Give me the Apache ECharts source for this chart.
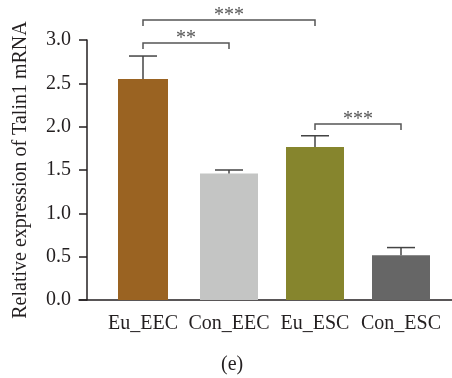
<!DOCTYPE html>
<html>
<head>
<meta charset="utf-8">
<script src="https://cdn.jsdelivr.net/npm/echarts@6/dist/echarts.min.js"></script>
<style>
  html, body { margin: 0; padding: 0; background: #fff; }
  #chart { width: 452px; height: 378px; }
</style>
</head>
<body>
<div id="chart"></div>
<script>
// data
var categories = ['Eu_EEC', 'Con_EEC', 'Eu_ESC', 'Con_ESC'];
var means = [2.55, 1.46, 1.765, 0.515];
var errors = [0.265, 0.04, 0.13, 0.09];
var yTicks = { min: 0, max: 3, interval: 0.5 };
// significance brackets: [from, to, height, label]
var brackets = [
    [0, 2, 3.23, '***'],
    [0, 1, 2.965, '**'],
    [2, 3, 2.03, '***']
];

var barColors = ['#9a6322', '#c4c5c4', '#86852d', '#666666'];
var font = 'Liberation Serif';
var textColor = '#231f20';

// first bar is narrower in the figure -> own (hidden) category axis
var wideData = means.map(function (v, i) {
    return i === 0 ? '-' : { value: v, itemStyle: { color: barColors[i] } };
});
var narrowData = means.map(function (v, i) {
    return i === 0 ? { value: v, itemStyle: { color: barColors[i] } } : '-';
});
var errData = means.map(function (v, i) { return [i, v, errors[i]]; });

var chart = echarts.init(document.getElementById('chart'));
var option = {
    animation: false,
    title: {
        text: '(e)',
        left: 216,
        top: 350,
        textStyle: { fontFamily: font, fontSize: 20, fontWeight: 'normal', color: textColor }
    },
    grid: [
        { left: 100, right: 8, top: 40, bottom: 78 },
        { left: 79, right: 0, top: 40, bottom: 78 }
    ],
    xAxis: [
        {
            type: 'category',
            gridIndex: 0,
            data: categories,
            axisLine: { show: false },
            axisTick: { alignWithLabel: true, length: 7, lineStyle: { color: textColor, width: 1.5 } },
            axisLabel: { margin: 14, fontFamily: font, fontSize: 20, color: textColor, interval: 0 }
        },
        {
            type: 'category',
            gridIndex: 0,
            data: categories,
            show: false
        },
        {
            type: 'value',
            gridIndex: 1,
            axisLine: { show: true, lineStyle: { color: textColor, width: 1.5 } },
            axisTick: { show: false },
            axisLabel: { show: false },
            splitLine: { show: false }
        }
    ],
    yAxis: [
        {
            type: 'value',
            gridIndex: 0,
            min: yTicks.min,
            max: yTicks.max,
            interval: yTicks.interval,
            offset: 13,
            name: 'Relative expression of Talin1 mRNA',
            nameLocation: 'middle',
            nameGap: 56,
            nameTextStyle: { fontFamily: font, fontSize: 20, color: textColor },
            axisLine: { show: true, lineStyle: { color: textColor, width: 1.5 } },
            axisTick: { show: true, length: 8, lineStyle: { color: textColor, width: 1.5 } },
            axisLabel: {
                margin: 16, fontFamily: font, fontSize: 20, color: textColor,
                formatter: function (v) { return v.toFixed(1); }
            },
            splitLine: { show: false }
        },
        {
            type: 'value',
            gridIndex: 1,
            show: false
        }
    ],
    series: [
        {
            type: 'bar',
            xAxisIndex: 0,
            yAxisIndex: 0,
            barWidth: 58,
            data: wideData
        },
        {
            type: 'bar',
            xAxisIndex: 1,
            yAxisIndex: 0,
            barWidth: 50,
            data: narrowData
        },
        {
            // upper error whiskers
            type: 'custom',
            xAxisIndex: 0,
            yAxisIndex: 0,
            z: 3,
            data: errData,
            renderItem: function (params, api) {
                var base = api.coord([api.value(0), api.value(1)]);
                var top = api.coord([api.value(0), api.value(1) + api.value(2)]);
                var style = { stroke: '#444', lineWidth: 1.5 };
                return {
                    type: 'group',
                    children: [
                        { type: 'line', shape: { x1: base[0], y1: base[1], x2: top[0], y2: top[1] }, style: style },
                        { type: 'line', shape: { x1: top[0] - 14, y1: top[1], x2: top[0] + 14, y2: top[1] }, style: style }
                    ]
                };
            }
        },
        {
            // significance brackets
            type: 'custom',
            xAxisIndex: 0,
            yAxisIndex: 0,
            z: 4,
            clip: false,
            data: brackets,
            renderItem: function (params, api) {
                var b = brackets[params.dataIndex];
                var p1 = api.coord([b[0], b[2]]);
                var p2 = api.coord([b[1], b[2]]);
                var leg = 6;
                return {
                    type: 'group',
                    children: [
                        {
                            type: 'polyline',
                            shape: { points: [[p1[0], p1[1] + leg], [p1[0], p1[1]], [p2[0], p2[1]], [p2[0], p2[1] + leg]] },
                            style: { stroke: '#555', lineWidth: 1.5, fill: null }
                        },
                        {
                            type: 'text',
                            style: {
                                text: b[3], x: (p1[0] + p2[0]) / 2, y: p1[1] - 4,
                                align: 'center', verticalAlign: 'middle',
                                fontFamily: font, fontSize: 20, fill: '#555'
                            }
                        }
                    ]
                };
            }
        }
    ]
};
chart.setOption(option);
window.onresize = chart.resize;
</script>
</body>
</html>
